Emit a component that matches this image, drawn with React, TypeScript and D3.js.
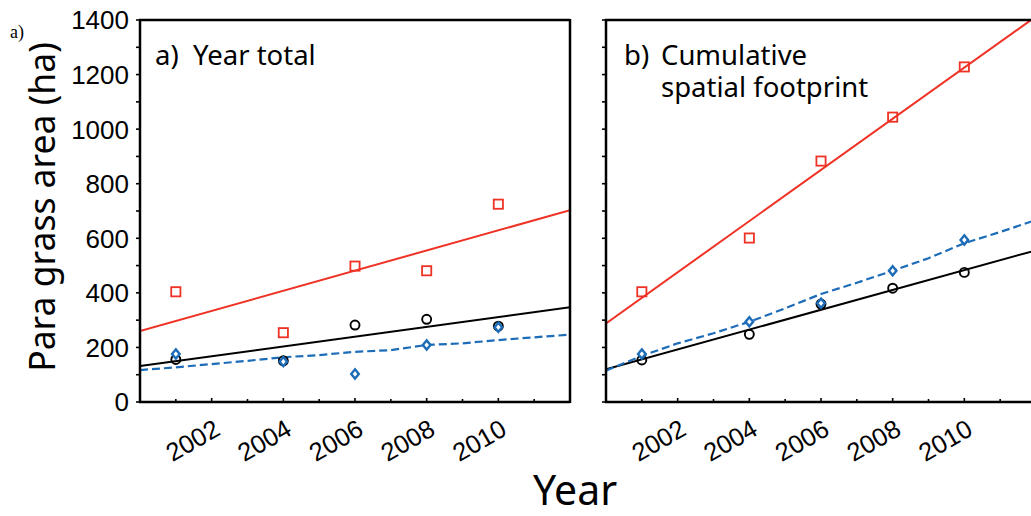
import React from "react";
import * as d3 from "d3";

// observed points
const years = [2001, 2004, 2006, 2008, 2010];
const totalRed = [404, 254, 498, 481, 725];
const totalBlack = [156, 151, 282, 303, 278];
const totalBlue = [176, 148, 103, 209, 274];
const cumRed = [404, 601, 883, 1044, 1228];
const cumBlack = [154, 248, 359, 417, 475];
const cumBlue = [176, 294, 362, 481, 594];

// straight fits, read at the ends of the axis
const fitYears = [2000, 2012];
const totalRedFit = [260, 703];
const totalBlackFit = [132, 347];
const cumRedFit = [288, 1413];
const cumBlackFit = [120, 556];

// dashed blue curve, read year by year
const curveYears = [2000, 2001, 2002, 2003, 2004, 2005, 2006, 2007, 2008, 2009, 2010, 2011, 2012];
const totalBlueCurve = [117, 127, 139, 151, 164, 172, 184, 190, 209, 215, 227, 237, 247];
const cumBlueCurve = [115, 169, 215, 252, 294, 343, 396, 437, 481, 527, 582, 623, 667];

const xTickLabels = [2002, 2004, 2006, 2008, 2010];
const yTickLabels = [0, 200, 400, 600, 800, 1000, 1200, 1400];

const RED = "#ee3326";
const BLUE = "#1d6cb8";
const SANS = "'Liberation Sans', Arial, sans-serif";
const TITLE = "'Noto Sans', 'Open Sans', sans-serif";

const top = 20;
const bottom = 402;
const panelW = 430;

type Panel = {
  id: string;
  left: number;
  red: number[];
  black: number[];
  blue: number[];
  redFit: number[];
  blackFit: number[];
  blueCurve: number[];
  showYLabels: boolean;
};

const panels: Panel[] = [
  { id: "a", left: 140, red: totalRed, black: totalBlack, blue: totalBlue, redFit: totalRedFit, blackFit: totalBlackFit, blueCurve: totalBlueCurve, showYLabels: true },
  { id: "b", left: 606, red: cumRed, black: cumBlack, blue: cumBlue, redFit: cumRedFit, blackFit: cumBlackFit, blueCurve: cumBlueCurve, showYLabels: false },
];

const y = d3.scaleLinear().domain([0, 1400]).range([bottom, top]);

const PanelView = ({ p }: { p: Panel }) => {
  const x = d3.scaleLinear().domain([2000, 2012]).range([p.left, p.left + panelW]);
  const line = d3
    .line<[number, number]>()
    .x((d) => x(d[0]))
    .y((d) => y(d[1]));
  const pairs = (xs: number[], vs: number[]) => xs.map((v, i) => [v, vs[i]] as [number, number]);
  const clipId = `clip-${p.id}`;
  const yTicks = d3.range(0, 1401, 100);
  const xTicks = d3.range(2001, 2012, 1);

  return (
    <g>
      <defs>
        <clipPath id={clipId}>
          <rect x={p.left} y={top} width={panelW} height={bottom - top} />
        </clipPath>
      </defs>

      <g clipPath={`url(#${clipId})`}>
        <path d={line(pairs(fitYears, p.redFit)) || ""} fill="none" stroke={RED} strokeWidth={2} />
        <path d={line(pairs(fitYears, p.blackFit)) || ""} fill="none" stroke="#000" strokeWidth={2} />
        <path
          d={line(pairs(curveYears, p.blueCurve)) || ""}
          fill="none"
          stroke={BLUE}
          strokeWidth={2.2}
          strokeDasharray="8,4"
        />
        {years.map((yr, i) => (
          <rect
            key={`r${i}`}
            x={x(yr) - 4.6}
            y={y(p.red[i]) - 4.6}
            width={9.2}
            height={9.2}
            fill="none"
            stroke={RED}
            strokeWidth={1.8}
          />
        ))}
        {years.map((yr, i) => (
          <circle key={`c${i}`} cx={x(yr)} cy={y(p.black[i])} r={4.5} fill="none" stroke="#000" strokeWidth={1.9} />
        ))}
        {years.map((yr, i) => {
          const cx = x(yr);
          const cy = y(p.blue[i]);
          return (
            <path
              key={`d${i}`}
              d={`M${cx},${cy - 4.6}L${cx + 3.8},${cy}L${cx},${cy + 4.6}L${cx - 3.8},${cy}Z`}
              fill="#fff"
              stroke={BLUE}
              strokeWidth={2.4}
            />
          );
        })}
      </g>

      {/* frame */}
      <line x1={p.left} x2={p.left} y1={top - 1} y2={bottom + 1} stroke="#000" strokeWidth={2.5} />
      <line x1={p.left - 1} x2={p.left + panelW} y1={bottom} y2={bottom} stroke="#000" strokeWidth={2.5} />
      <line x1={p.left - 1} x2={p.left + panelW} y1={top} y2={top} stroke="#000" strokeWidth={2.5} />
      <line x1={p.left + panelW} x2={p.left + panelW} y1={top - 1} y2={bottom + 1} stroke="#000" strokeWidth={2.5} />

      {yTicks.map((t) => (
        <line key={`yt${t}`} x1={p.left - 4} x2={p.left} y1={y(t)} y2={y(t)} stroke="#000" strokeWidth={1.6} />
      ))}
      {xTicks.map((t) => (
        <line
          key={`xt${t}`}
          x1={x(t)}
          x2={x(t)}
          y1={bottom}
          y2={bottom - (t % 2 === 0 ? 4 : 3)}
          stroke="#000"
          strokeWidth={1.6}
        />
      ))}

      {p.showYLabels &&
        yTickLabels.map((t) => (
          <text
            key={`yl${t}`}
            x={p.left - 11}
            y={y(t)}
            dy="0.36em"
            textAnchor="end"
            fontFamily={SANS}
            fontSize={26}
          >
            {t}
          </text>
        ))}
      {xTickLabels.map((t) => (
        <text
          key={`xl${t}`}
          transform={`translate(${x(t) + 10},${bottom + 32}) rotate(-30)`}
          textAnchor="end"
          fontFamily={SANS}
          fontSize={25.5}
        >
          {t}
        </text>
      ))}
    </g>
  );
};

export default function App() {
  return (
    <svg
      width={1031}
      height={516}
      style={{ position: "absolute", left: 0, top: 0, background: "#fff" }}
    >
      <rect width={1031} height={516} fill="#fff" />
      {panels.map((p) => (
        <PanelView key={p.id} p={p} />
      ))}

      <text x={10} y={38} fontFamily="'Liberation Serif', serif" fontSize={18}>
        a)
      </text>

      <text x={155} y={65} fontFamily={TITLE} fontSize={27.5}>
        a)
      </text>
      <text x={193} y={65} fontFamily={TITLE} fontSize={27.5}>
        Year total
      </text>
      <text x={624} y={65} fontFamily={TITLE} fontSize={27.5}>
        b)
      </text>
      <text x={661} y={65} fontFamily={TITLE} fontSize={27.5}>
        Cumulative
      </text>
      <text x={661} y={97} fontFamily={TITLE} fontSize={27.5}>
        spatial footprint
      </text>

      <text
        transform="translate(55,207) rotate(-90)"
        textAnchor="middle"
        fontFamily={TITLE}
        fontSize={35.5}
      >
        Para grass area (ha)
      </text>
      <text x={575} y={505} textAnchor="middle" fontFamily={TITLE} fontSize={41}>
        Year
      </text>
    </svg>
  );
}
